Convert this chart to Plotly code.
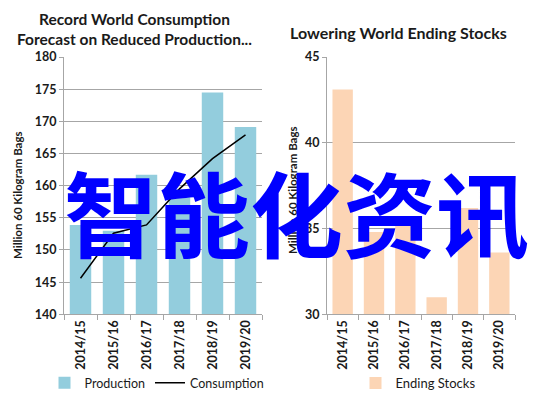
import plotly.graph_objects as go

seasons = ["2014/15", "2015/16", "2016/17", "2017/18", "2018/19", "2019/20"]
production = [153.9, 153.0, 161.7, 159.4, 174.5, 169.1]
consumption = [145.6, 152.6, 153.9, 159.5, 164.2, 167.9]
ending_stocks = [43.1, 34.8, 35.3, 31.0, 36.2, 33.6]

left_title = "Record World Consumption<br>Forecast on Reduced Production..."
right_title = "Lowering World Ending Stocks"
y_title = "Million 60 Kilogram Bags"
watermark = "智能化资讯"

W, H = 537, 399
FONT = "Lato, 'Open Sans', sans-serif"
BLUE_BAR = "#93CDDD"
PEACH_BAR = "#FCD5B5"
GRID = "#A6A6A6"
TXT = "#1a1a1a"

def px(x):
    return x / W

def py(y):
    return 1 - y / H

fig = go.Figure()
fig.add_trace(go.Bar(x=seasons, y=production, name="Production", marker_color=BLUE_BAR,
                     xaxis="x", yaxis="y", legend="legend"))
fig.add_trace(go.Scatter(x=seasons, y=consumption, name="Consumption", mode="lines",
                         line=dict(color="#000000", width=1.5), xaxis="x", yaxis="y", legend="legend"))
fig.add_trace(go.Bar(x=seasons, y=ending_stocks, name="Ending Stocks", marker_color=PEACH_BAR,
                     xaxis="x2", yaxis="y2", legend="legend2"))

tick_font = dict(family=FONT, size=12.5, color=TXT, weight="bold")
xtick_font = dict(family=FONT, size=12.5, color=TXT, weight="bold")

common_x = dict(type="category", showgrid=False, showline=True, linecolor=GRID, linewidth=1,
                ticks="outside", tickson="boundaries", ticklen=5, tickcolor=GRID,
                tickangle=-90, tickfont=xtick_font, fixedrange=True, automargin=False)
common_y = dict(showgrid=True, gridcolor=GRID, gridwidth=1, showline=True, linecolor=GRID,
                linewidth=1, ticks="outside", ticklen=4, tickcolor=GRID, dtick=5,
                tickfont=tick_font, zeroline=False, fixedrange=True, automargin=False)

ydom = [py(314.3), py(57)]

fig.update_layout(
    template="none",
    width=W, height=H,
    margin=dict(l=0, r=0, t=0, b=0, autoexpand=False),
    paper_bgcolor="white", plot_bgcolor="white",
    bargap=0.35,
    xaxis=dict(domain=[px(64), px(262)], anchor="y", **common_x),
    yaxis=dict(domain=ydom, anchor="x", range=[140, 180], **common_y),
    xaxis2=dict(domain=[px(327), px(515)], anchor="y2", **common_x),
    yaxis2=dict(domain=ydom, anchor="x2", range=[30, 45], **common_y),
    legend=dict(orientation="h", xref="container", yref="container",
                x=px(157), y=py(383), xanchor="center", yanchor="middle",
                font=dict(family=FONT, size=12.5, color=TXT), bgcolor="rgba(0,0,0,0)",
                itemwidth=30, tracegroupgap=0),
    legend2=dict(orientation="h", xref="container", yref="container",
                 x=px(418), y=py(383), xanchor="center", yanchor="middle",
                 font=dict(family=FONT, size=13, color=TXT), bgcolor="rgba(0,0,0,0)"),
    showlegend=True,
)

annotations = [
    dict(text=left_title, x=px(134), y=py(29), xref="paper", yref="paper", showarrow=False,
         xanchor="center", yanchor="middle", align="center",
         font=dict(family=FONT, size=15.5, color=TXT, weight="bold")),
    dict(text=right_title, x=px(398), y=py(32), xref="paper", yref="paper", showarrow=False,
         xanchor="center", yanchor="middle",
         font=dict(family=FONT, size=16, color=TXT, weight="bold")),
    dict(text=y_title, x=px(17), y=py(195), xref="paper", yref="paper", showarrow=False,
         textangle=-90, xanchor="center", yanchor="middle",
         font=dict(family=FONT, size=11.5, color=TXT, weight="bold")),
    dict(text=y_title, x=px(292), y=py(190), xref="paper", yref="paper", showarrow=False,
         textangle=-90, xanchor="center", yanchor="middle",
         font=dict(family=FONT, size=11.5, color=TXT, weight="bold")),
    dict(text=watermark, x=px(296), y=py(210), xref="paper", yref="paper", showarrow=False,
         xanchor="center", yanchor="middle",
         font=dict(family="'Noto Sans CJK SC'", size=93, color="#0000FF", weight="bold")),
]
fig.update_layout(annotations=annotations)

fig.write_html("out.html", config={"displayModeBar": False},
               post_script="document.body.style.margin='0';document.body.style.padding='0';")
